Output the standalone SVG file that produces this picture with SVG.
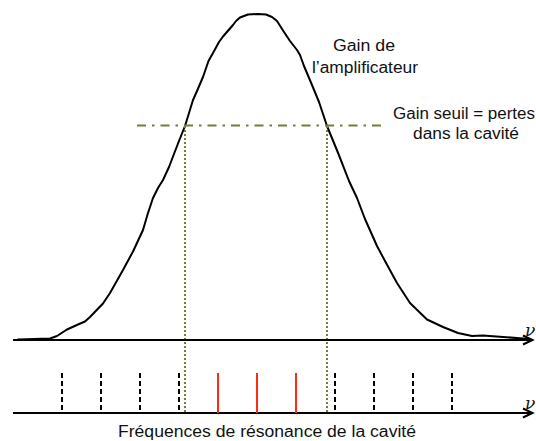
<svg xmlns="http://www.w3.org/2000/svg" width="536" height="441" viewBox="0 0 536 441">
<style>
.lbl{font-family:"Liberation Sans",Arial,sans-serif;font-size:16px;fill:#111}
.nu{font-family:"DejaVu Serif","Liberation Serif",serif;font-style:italic;font-size:17px;fill:#111}
.axis{stroke:#000;stroke-width:2;fill:none}
.tick{stroke:#000;stroke-width:2;stroke-dasharray:5 3}
.mode{stroke:#ff2b0f;stroke-width:2}
.guide{stroke:#6e7f3a;stroke-width:2;stroke-dasharray:2 2;fill:none}
.thr{stroke:#6e7f3a;stroke-width:2;stroke-dasharray:9 6 2.5 6;fill:none}
</style>
<rect width="536" height="441" fill="#fff"/>
<g id="gain-curve">
<path d="M18,339.5 L50,338.5 L57,336 L67,329.5 L78,324.5 L85,321.5 L90,317 L103,303.5 L110,293 L123,270 L133,251.5 L143,230 L148,213 L153,198 L158,188 L163,180 L169,167 L178,143.5 L185,126 L193,100 L197,91 L203,77 L208.5,61 L213,53 L219,42 L223,36.5 L233,25 L236,21 L240,17.5 L248,14.5 L258,14 L266,14.5 L272,17 L277,21 L284,32 L290,41 L297,50 L300,55 L304,66 L312,85 L319,102 L327,126 L338.5,154 L349,181 L357,198 L365,219 L377,246 L385,261 L397,283 L410,303 L427,319.5 L443,327 L458,333 L472,336 L483,335.5 L503,337 L523,338.5 L530,339.5" fill="none" stroke="#000" stroke-width="2" stroke-linejoin="round" stroke-linecap="round"/>
</g>
<g id="connectors">
<line class="thr" x1="137" y1="125.5" x2="387" y2="125.5"/>
<line class="guide" x1="185" y1="126" x2="185" y2="413"/>
<line class="guide" x1="327" y1="126" x2="327" y2="413"/>
</g>
<g id="axis-gain">
<line class="axis" x1="13" y1="340" x2="532" y2="340"/>
<polyline class="axis" points="523,335.5 532.5,340 523,344.5"/>
<text class="nu" x="525" y="336">ν</text>
</g>
<g id="axis-modes">
<line class="axis" x1="13" y1="413" x2="532" y2="413"/>
<polyline class="axis" points="523,408.5 532.5,413 523,417.5"/>
<text class="nu" x="525" y="409">ν</text>
</g>
<g id="modes">
<line class="tick" x1="62" y1="373" x2="62" y2="413"/>
<line class="tick" x1="101" y1="373" x2="101" y2="413"/>
<line class="tick" x1="140" y1="373" x2="140" y2="413"/>
<line class="tick" x1="179" y1="373" x2="179" y2="413"/>
<line class="mode" x1="218" y1="373" x2="218" y2="413"/>
<line class="mode" x1="257" y1="373" x2="257" y2="413"/>
<line class="mode" x1="296" y1="373" x2="296" y2="413"/>
<line class="tick" x1="335" y1="373" x2="335" y2="413"/>
<line class="tick" x1="374" y1="373" x2="374" y2="413"/>
<line class="tick" x1="413" y1="373" x2="413" y2="413"/>
<line class="tick" x1="452" y1="373" x2="452" y2="413"/>
</g>
<g id="label-gain">
<text class="lbl" x="333" y="51" textLength="62" lengthAdjust="spacingAndGlyphs">Gain de</text>
<text class="lbl" x="312" y="72.5" textLength="106" lengthAdjust="spacingAndGlyphs">l’amplificateur</text>
</g>
<g id="label-threshold">
<text class="lbl" x="393" y="118.5" textLength="142" lengthAdjust="spacingAndGlyphs">Gain seuil = pertes</text>
<text class="lbl" x="413" y="138.5" textLength="106" lengthAdjust="spacingAndGlyphs">dans la cavité</text>
</g>
<g id="label-modes">
<text class="lbl" x="118" y="437" textLength="298" lengthAdjust="spacingAndGlyphs">Fréquences de résonance de la cavité</text>
</g>
</svg>
